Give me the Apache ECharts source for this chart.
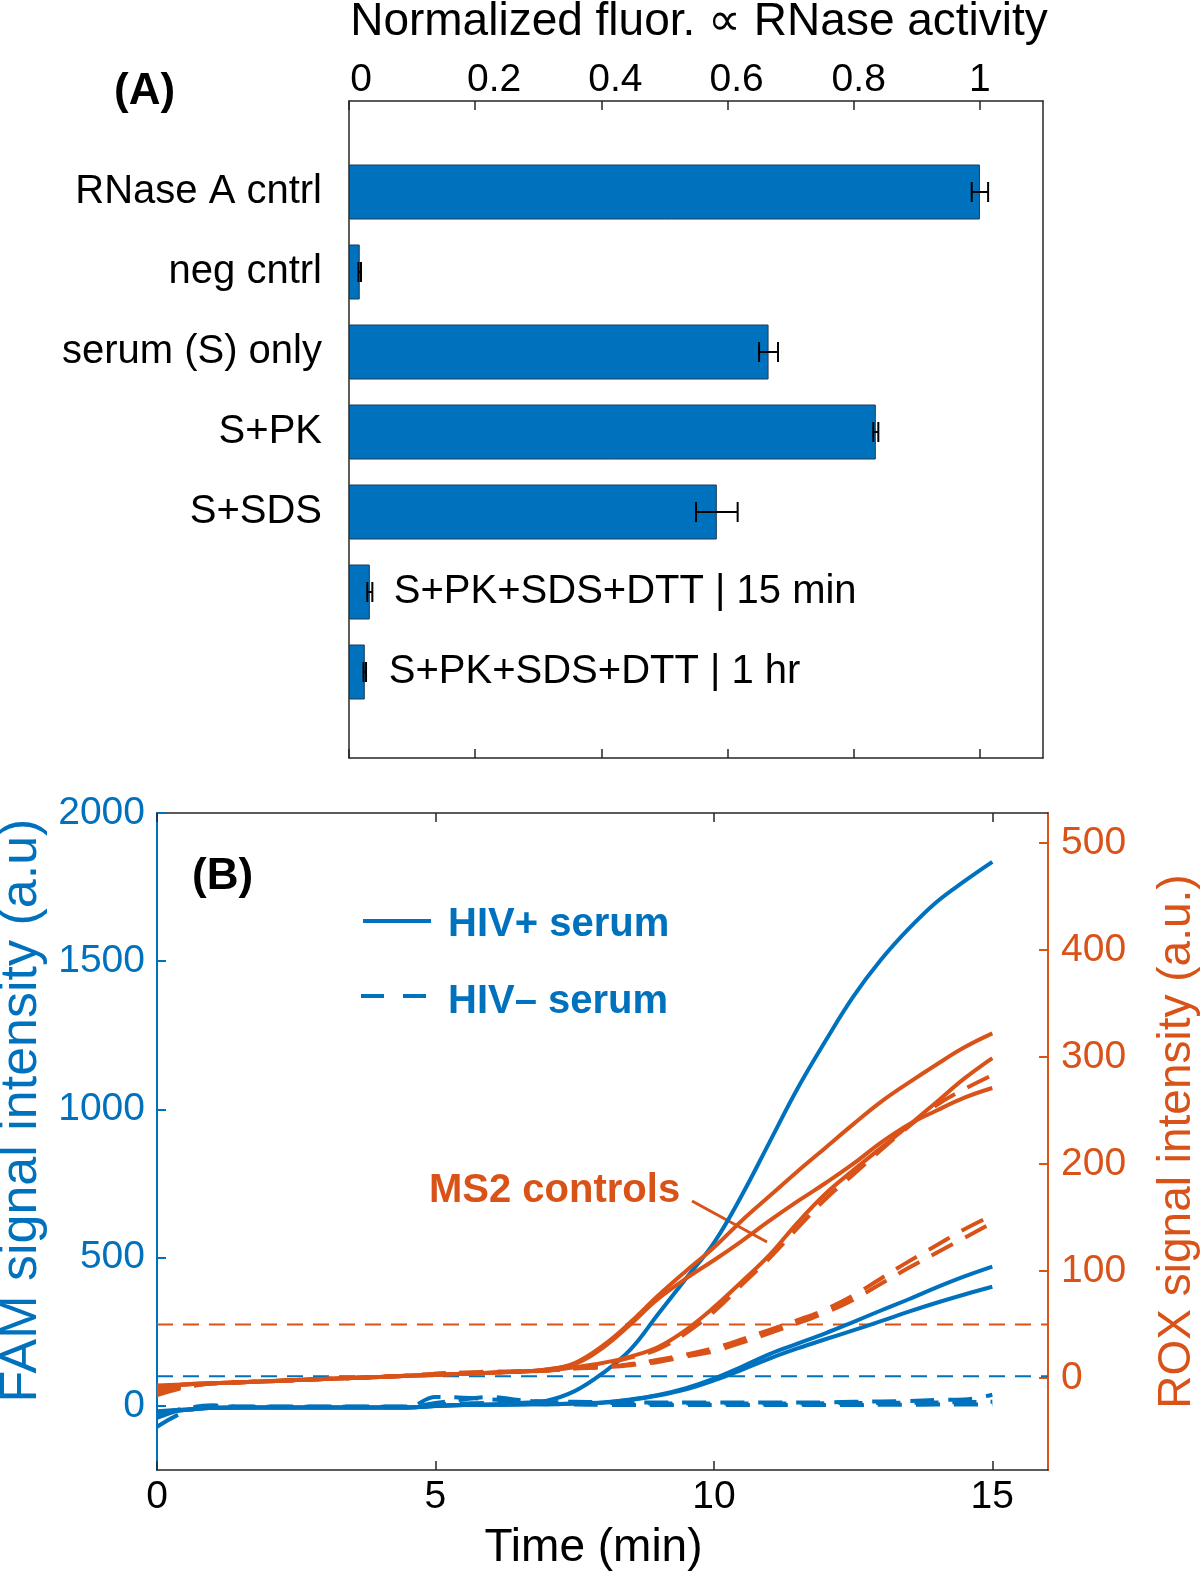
<!DOCTYPE html>
<html><head><meta charset="utf-8">
<script src="https://cdn.jsdelivr.net/npm/echarts@6/dist/echarts.min.js"></script>
<style>html,body{margin:0;padding:0;background:#fff}#c{width:1200px;height:1571px}</style>
</head><body><div id="c"></div>
<script>
// ---------- Panel A data ----------
const categories = ['RNase A cntrl','neg cntrl','serum (S) only','S+PK','S+SDS','S+PK+SDS+DTT | 15 min','S+PK+SDS+DTT | 1 hr'];
const activity    = [1.0, 0.017, 0.665, 0.835, 0.583, 0.033, 0.025];
const activityErr = [0.013, 0.002, 0.015, 0.004, 0.033, 0.004, 0.002];
const activityTicks = [0, 0.2, 0.4, 0.6, 0.8, 1];

// ---------- Panel B data ----------
const timeMin = [0,0.5,1,1.5,2,2.5,3,3.5,4,4.5,5,5.5,6,6.5,7,7.5,8,8.5,9,9.5,10,10.5,11,11.5,12,12.5,13,13.5,14,14.5,15];
// FAM (left axis), HIV+ serum (solid)
const famPos1 = [-20,-14,-6,-5,-5,-5,-5,-5,-5,-5,0,3,5,10,18, 50,110,190,310,430,550,710,890,1070,1230,1380,1505,1610,1700,1770,1835];
const famPos2 = [-18,-12,-6,-5,-5,-5,-5,-5,-5,-5,0,3,4,5,6, 8,12,22,37,60,92,132,175,210,245,283,322,360,400,437,470];
const famPos3 = [-22,-14,-6,-5,-5,-5,-5,-5,-5,-5,0,3,4,5,6, 8,11,20,35,56,86,122,160,194,225,255,286,318,348,376,402];
// FAM, HIV- serum (dashed)
const famNeg1 = [-70,-20,0,-3,-3,-3,-3,-3,-3,-3,30,28,22,18,15, 14,13,12,12,12,12,12,12,12,12,14,15,17,20,22,38];
const famNeg2 = [-40,-10,2,-2,-2,-2,-2,-2,-2,-2,10,22,30,20,14, 12,10,9,8,8,8,8,8,8,9,10,10,11,12,13,14];
const famNeg3 = [-30,-8,0,-4,-4,-4,-4,-4,-4,-4,5,8,10,8,6, 5,4,3,3,3,3,3,3,3,3,3,4,4,5,5,6];
// ROX (right axis), MS2 controls
const roxPos1 = [-8,-6,-5,-4,-3,-2,-1,0,1,2,3,4,5,6,8, 14,30,52,77,100,122,147,170,193,215,237,258,276,293,309,322];
const roxPos2 = [-9,-6,-5,-4,-3,-2,-1,0,1,2,3,4,5,6,8, 13,28,50,74,93,110,128,147,165,182,200,220,237,250,262,271];
const roxPos3 = [-7,-6,-5,-4,-3,-2,-1,0,1,2,3,4,5,6,7, 10,14,20,29,45,66,90,115,145,172,194,215,236,258,280,299];
const roxNeg1 = [-14,-8,-5,-4,-3,-2,-1,0,1,2,4,5,5,6,7, 9,13,19,27,42,62,87,112,140,167,190,213,235,255,270,283];
const roxNeg2 = [-16,-9,-5,-4,-3,-2,-1,0,1,2,4,5,6,6,7, 9,10,13,17,22,28,36,45,54,64,77,93,109,124,139,152];
const roxNeg3 = [-12,-8,-5,-4,-3,-2,-1,0,1,2,3,4,5,6,7, 9,10,12,15,20,25,33,42,51,61,73,88,103,117,131,145];
const famThreshold = 100;
const roxThreshold = 50;
const timeTicks = [0, 5, 10, 15];
const famTicks = [0, 500, 1000, 1500, 2000];
const roxTicks = [0, 100, 200, 300, 400, 500];

// ---------- styling ----------
const BLUE = '#0072BD', ORANGE = '#D95319', AX = '#262626';
const FONT = "'Liberation Sans', Arial, Helvetica, sans-serif";
const tickFont = {fontFamily: FONT, fontSize: 39, color: '#000'};
const DASH = [24, 14];
const plain = v => String(v);
// top-axis labels in the original sit slightly right of their ticks
const topLabelShift = [24, 38, 28, 18, 10, 0];
const topRich = {};
topLabelShift.forEach((s, i) => { topRich['p' + i] = {fontFamily: FONT, fontSize: 39, color: '#000', padding: [0, 0, 0, s]}; });

const chart = echarts.init(document.getElementById('c'), null, {renderer: 'canvas'});

function lineSeries(name, arr, axis, color, dashed) {
  return {
    name, type: 'line', xAxisIndex: 3, yAxisIndex: axis,
    data: timeMin.map((t, i) => [t, arr[i]]),
    symbol: 'none', showSymbol: false, smooth: 0.4,
    lineStyle: {color, width: 4, type: dashed ? DASH : 'solid', cap: 'butt', join: 'round'},
    z: axis === 4 ? 4 : 3, silent: true
  };
}
function thresholdSeries(val, axis, color) {
  return {
    type: 'line', xAxisIndex: 3, yAxisIndex: axis,
    data: [[0, val], [16, val]], symbol: 'none',
    lineStyle: {color, width: 2, type: [16, 10]}, z: 2, silent: true
  };
}

const noLine = {show: false};
const option = {
  animation: false,
  backgroundColor: '#fff',
  textStyle: {fontFamily: FONT},
  grid: [
    {left: 349, right: 157, top: 101, bottom: 813, containLabel: false, outerBoundsMode: 'none'},
    {left: 349, right: 157, top: 152, height: 560, containLabel: false, outerBoundsMode: 'none'},
    {left: 157, right: 152, top: 813, bottom: 101, containLabel: false, outerBoundsMode: 'none'}
  ],
  xAxis: [
    {gridIndex: 0, type: 'value', position: 'top', min: 0, max: 1.1,
     name: 'Normalized fluor. \u221D RNase activity', nameLocation: 'middle', nameGap: 56,
     nameTextStyle: {fontFamily: FONT, fontSize: 46, color: '#000', padding: [0, 0, 0, 6]},
     axisLine: {show: true, onZero: false, lineStyle: {color: AX, width: 1.5}},
     axisTick: {show: true, inside: true, length: 9, customValues: activityTicks, lineStyle: {color: AX, width: 1.5}},
     axisLabel: {show: true, margin: 1, customValues: activityTicks, fontFamily: FONT, fontSize: 39, color: '#000',
       formatter: v => '{p' + activityTicks.indexOf(v) + '|' + v + '}', rich: topRich},
     splitLine: noLine},
    {gridIndex: 0, type: 'value', position: 'bottom', min: 0, max: 1.1,
     axisLine: {show: true, onZero: false, lineStyle: {color: AX, width: 1.5}},
     axisTick: {show: true, inside: true, length: 9, customValues: activityTicks, lineStyle: {color: AX, width: 1.5}},
     axisLabel: {show: false}, splitLine: noLine},
    {gridIndex: 1, type: 'value', min: 0, max: 1.1, show: false, axisLine: {onZero: false}},
    {gridIndex: 2, type: 'value', position: 'bottom', min: 0, max: 16,
     name: 'Time (min)', nameLocation: 'middle', nameGap: 55,
     nameTextStyle: {fontFamily: FONT, fontSize: 46, color: '#000', padding: [0, 18, 0, 0]},
     axisLine: {show: true, onZero: false, lineStyle: {color: AX, width: 1.5}},
     axisTick: {show: true, inside: true, length: 9, customValues: timeTicks, lineStyle: {color: AX, width: 1.5}},
     axisLabel: Object.assign({show: true, margin: 8, customValues: timeTicks, formatter: plain}, tickFont),
     splitLine: noLine},
    {gridIndex: 2, type: 'value', position: 'top', min: 0, max: 16,
     axisLine: {show: true, onZero: false, lineStyle: {color: AX, width: 1.5}},
     axisTick: {show: true, inside: true, length: 9, customValues: timeTicks, lineStyle: {color: AX, width: 1.5}},
     axisLabel: {show: false}, splitLine: noLine}
  ],
  yAxis: [
    {gridIndex: 0, type: 'value', position: 'left', min: 0, max: 1,
     axisLine: {show: true, onZero: false, lineStyle: {color: AX, width: 1.5}},
     axisTick: {show: false}, axisLabel: {show: false}, splitLine: noLine},
    {gridIndex: 0, type: 'value', position: 'right', min: 0, max: 1,
     axisLine: {show: true, onZero: false, lineStyle: {color: AX, width: 1.5}},
     axisTick: {show: false}, axisLabel: {show: false}, splitLine: noLine},
    {gridIndex: 1, type: 'category', data: categories, inverse: true,
     axisLine: {show: false, onZero: false}, axisTick: {show: false},
     axisLabel: Object.assign({show: true, margin: 27, interval: 0,
       formatter: (v, i) => (i >= 5 ? '' : v)}, tickFont, {fontSize: 40}),
     splitLine: noLine},
    {gridIndex: 2, type: 'value', position: 'left', min: -216, max: 2000,
     name: 'FAM signal intensity (a.u)', nameLocation: 'middle', nameGap: 108,
     nameTextStyle: {fontFamily: FONT, fontSize: 52, color: BLUE, padding: [0, 0, 0, 62]},
     axisLine: {show: true, onZero: false, lineStyle: {color: BLUE, width: 2}},
     axisTick: {show: true, inside: true, length: 9, customValues: famTicks, lineStyle: {color: BLUE, width: 2}},
     axisLabel: Object.assign({show: true, margin: 12, customValues: famTicks, formatter: plain}, tickFont, {color: BLUE}),
     splitLine: noLine},
    {gridIndex: 2, type: 'value', position: 'right', min: -86, max: 528,
     name: 'ROX signal intensity (a.u.)', nameLocation: 'middle', nameGap: 106,
     nameTextStyle: {fontFamily: FONT, fontSize: 46, color: ORANGE},
     axisLine: {show: true, onZero: false, lineStyle: {color: ORANGE, width: 2}},
     axisTick: {show: true, inside: true, length: 9, customValues: roxTicks, lineStyle: {color: ORANGE, width: 2}},
     axisLabel: Object.assign({show: true, margin: 13, customValues: roxTicks, formatter: plain}, tickFont, {color: ORANGE}),
     splitLine: noLine}
  ],
  series: [
    {type: 'bar', xAxisIndex: 2, yAxisIndex: 2, barWidth: 55,
     data: activity.map((v, i) => i >= 5 ? {value: v, label: {show: true, position: 'right', distance: 24,
        formatter: categories[i], fontFamily: FONT, fontSize: 40, color: '#000'}} : v),
     itemStyle: {color: BLUE, borderColor: '#1d3a57', borderWidth: 1}, silent: true},
    {type: 'custom', xAxisIndex: 2, yAxisIndex: 2, silent: true, z: 5,
     data: activity.map((v, i) => [v, i, activityErr[i]]),
     encode: {x: 0, y: 1},
     renderItem: function (params, api) {
       const v = api.value(0), c = api.value(1), e = api.value(2);
       const p1 = api.coord([v - e, c]), p2 = api.coord([v + e, c]);
       const h = 10;
       const st = {stroke: '#000', lineWidth: 2, fill: null};
       return {type: 'group', children: [
         {type: 'line', shape: {x1: p1[0], y1: p1[1], x2: p2[0], y2: p2[1]}, style: st},
         {type: 'line', shape: {x1: p1[0], y1: p1[1] - h, x2: p1[0], y2: p1[1] + h}, style: st},
         {type: 'line', shape: {x1: p2[0], y1: p2[1] - h, x2: p2[0], y2: p2[1] + h}, style: st}
       ]};
     }},
    thresholdSeries(famThreshold, 3, BLUE),
    thresholdSeries(roxThreshold, 4, ORANGE),
    lineSeries('HIV+ serum', famPos1, 3, BLUE, false),
    lineSeries('HIV+ serum 2', famPos2, 3, BLUE, false),
    lineSeries('HIV+ serum 3', famPos3, 3, BLUE, false),
    lineSeries('HIV\u2013 serum', famNeg1, 3, BLUE, true),
    lineSeries('HIV\u2013 serum 2', famNeg2, 3, BLUE, true),
    lineSeries('HIV\u2013 serum 3', famNeg3, 3, BLUE, true),
    lineSeries('MS2 HIV+ 1', roxPos1, 4, ORANGE, false),
    lineSeries('MS2 HIV+ 2', roxPos2, 4, ORANGE, false),
    lineSeries('MS2 HIV+ 3', roxPos3, 4, ORANGE, false),
    lineSeries('MS2 HIV- 1', roxNeg1, 4, ORANGE, true),
    lineSeries('MS2 HIV- 2', roxNeg2, 4, ORANGE, true),
    lineSeries('MS2 HIV- 3', roxNeg3, 4, ORANGE, true)
  ],
  graphic: [
    {type: 'text', left: 114, top: 70, style: {text: '(A)', fontFamily: FONT, fontSize: 44, fontWeight: 'bold', fill: '#000'}},
    {type: 'text', left: 192, top: 855, style: {text: '(B)', fontFamily: FONT, fontSize: 44, fontWeight: 'bold', fill: '#000'}},
    {type: 'line', shape: {x1: 363, y1: 921, x2: 431, y2: 921}, style: {stroke: BLUE, lineWidth: 4}},
    {type: 'line', shape: {x1: 361, y1: 996, x2: 431, y2: 996}, style: {stroke: BLUE, lineWidth: 4, lineDash: [23, 19]}},
    {type: 'text', left: 448, top: 905, style: {text: 'HIV+ serum', fontFamily: FONT, fontSize: 40, fontWeight: 'bold', fill: BLUE}},
    {type: 'text', left: 448, top: 982, style: {text: 'HIV\u2013 serum', fontFamily: FONT, fontSize: 40, fontWeight: 'bold', fill: BLUE}},
    {type: 'text', left: 429, top: 1171, style: {text: 'MS2 controls', fontFamily: FONT, fontSize: 40, fontWeight: 'bold', fill: ORANGE}},
    {type: 'line', shape: {x1: 692, y1: 1201, x2: 767, y2: 1242}, style: {stroke: ORANGE, lineWidth: 3}}
  ]
};
chart.setOption(option);
</script>
</body></html>
